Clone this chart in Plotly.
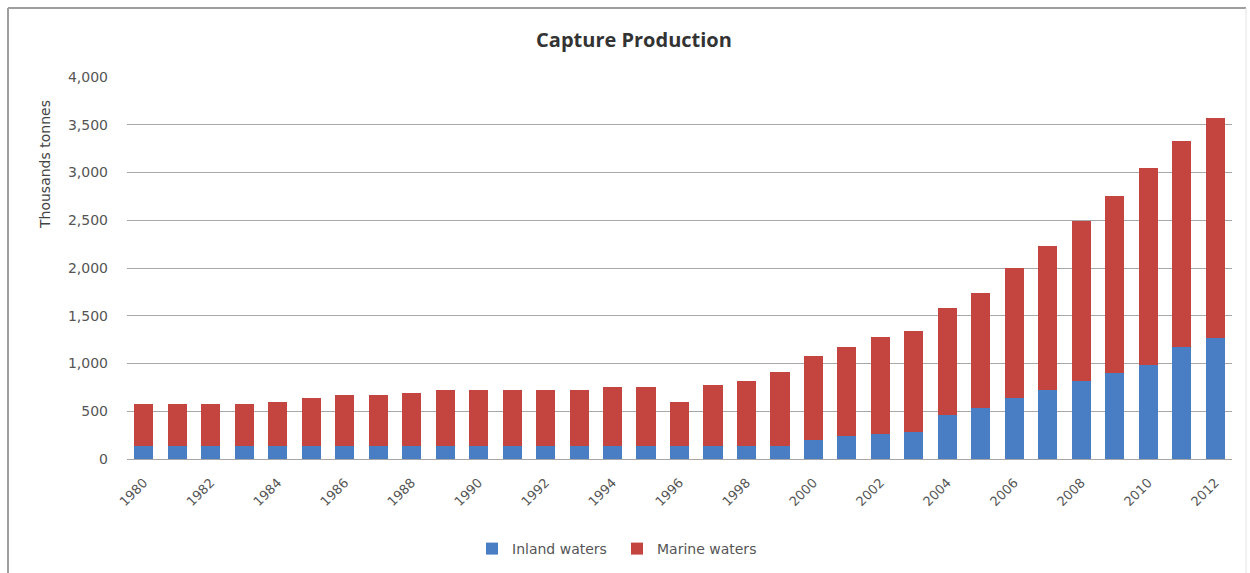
import plotly.graph_objects as go

years = [str(y) for y in range(1980, 2013)]
inland = [140, 135, 135, 135, 135, 135, 135, 135, 135, 135, 135, 135, 135, 135, 135, 140, 135,
          135, 140, 140, 195, 240, 258, 288, 462, 532, 636, 724, 812, 900, 988, 1175, 1265]
marine = [435, 440, 440, 440, 460, 500, 535, 535, 560, 590, 590, 590, 590, 590, 615, 610, 460,
          645, 682, 766, 887, 930, 1024, 1057, 1116, 1204, 1366, 1508, 1682, 1857, 2064, 2157, 2310]
tick_years = years[::2]
y_ticks = [0, 500, 1000, 1500, 2000, 2500, 3000, 3500, 4000]

W, H = 1250, 573
L, R, T, B = 127, 18, 77, 114
pw, ph = W - L - R, H - T - B

def px(x):
    return (x - L) / pw

def py(y):
    return (H - B - y) / ph

FONT = "'DejaVu Sans', Verdana, sans-serif"
fig = go.Figure()
fig.add_trace(go.Bar(x=years, y=inland, name="Inland waters", marker_color="#4A7EC4",
                     marker_line_width=0))
fig.add_trace(go.Bar(x=years, y=marine, name="Marine waters", marker_color="#C4453F",
                     marker_line_width=0))

fig.update_layout(
    width=W, height=H, barmode="stack", bargap=0.43,
    margin=dict(l=L, r=R, t=T, b=B, autoexpand=False),
    paper_bgcolor="white", plot_bgcolor="white",
    font=dict(family=FONT, color="#555555", size=13),
    title=dict(text="<b>Capture Production</b>", x=634 / W, xanchor="center",
               y=1 - 40 / H, yanchor="middle",
               font=dict(size=20, color="#333333", family="'Open Sans', sans-serif")),
    showlegend=True,
    legend=dict(orientation="h", x=px(472), xanchor="left", y=py(549), yanchor="middle",
                font=dict(size=14, color="#555555", family=FONT), entrywidth=100,
                traceorder="normal", bgcolor="rgba(0,0,0,0)"),
    xaxis=dict(type="category", tickmode="array", tickvals=tick_years, ticktext=tick_years,
               tickangle=-45, showgrid=False, showline=True, linecolor="#A6A6A6",
               linewidth=1, ticks="", ticklabelstandoff=10,
               tickfont=dict(size=13, color="#555555", family=FONT)),
    yaxis=dict(range=[0, 4000], tickvals=y_ticks, tickformat=",d", showgrid=True,
               gridcolor="#A8A8A8", gridwidth=1, zeroline=False, showline=False,
               ticks="", ticklabelstandoff=18,
               tickfont=dict(size=14, color="#555555", family=FONT)),
    annotations=[dict(text="Thousands tonnes", xref="paper", yref="paper", x=px(45), y=py(165),
                      showarrow=False, textangle=-90,
                      font=dict(size=14, color="#444444", family=FONT),
                      xanchor="center", yanchor="middle")],
    shapes=[
        dict(type="line", xref="paper", yref="paper", x0=px(8), x1=px(1246), y0=py(8), y1=py(8),
             line=dict(color="#9E9E9E", width=2)),
        dict(type="line", xref="paper", yref="paper", x0=px(8), x1=px(8), y0=py(8), y1=py(573),
             line=dict(color="#9E9E9E", width=2)),
        dict(type="line", xref="paper", yref="paper", x0=px(1246), x1=px(1246), y0=py(8), y1=py(573),
             line=dict(color="#E4E4E4", width=1)),
    ],
)

fig.write_html("out.html")
